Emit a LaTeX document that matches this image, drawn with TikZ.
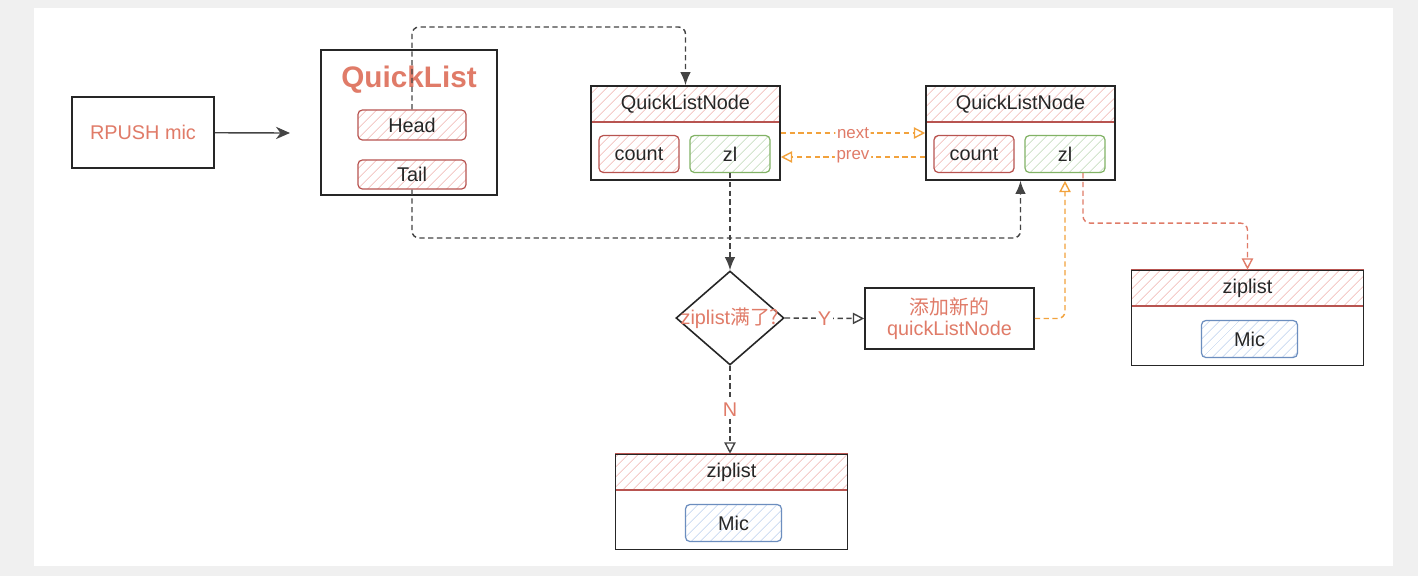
\documentclass[tikz,border=0pt]{standalone}
\usepackage{fontspec}
\setmainfont{Liberation Sans}
\newfontfamily\cjk{Noto Sans CJK SC}
\usetikzlibrary{calc}
\usetikzlibrary{arrows.meta}
\usetikzlibrary{positioning}
\usetikzlibrary{shapes.geometric}
\usetikzlibrary{patterns.meta}
\definecolor{PageGray}{HTML}{F0F0F0}
\definecolor{Coral}{HTML}{E07B68}
\definecolor{CellRed}{HTML}{B85450}
\definecolor{HatchRed}{HTML}{F0B5B0}
\definecolor{CellGreen}{HTML}{82B366}
\definecolor{HatchGreen}{HTML}{BFD9B7}
\definecolor{CellBlue}{HTML}{6C8EBF}
\definecolor{HatchBlue}{HTML}{BDD1EE}
\definecolor{LinkOrange}{HTML}{F2A23C}
\definecolor{LinkGray}{HTML}{444444}
\newcommand{\pxu}{0.02cm}

\begin{document}
\begin{tikzpicture}[x=0.02cm, y=-0.02cm,
  every node/.style={font=\fontsize{11.3}{12}\selectfont, inner sep=0pt, text=black!85},
  box/.style={draw=black!85, line width=0.9pt},
  hatch/.style={pattern={Lines[angle=45,distance=4pt,line width=0.4pt]}},
  redhead/.style={hatch, pattern color=HatchRed, draw=CellRed, line width=0.7pt},
  redcell/.style={redhead, rounded corners=2.5pt},
  greencell/.style={hatch, pattern color=HatchGreen, draw=CellGreen, line width=0.7pt, rounded corners=2.5pt},
  bluecell/.style={hatch, pattern color=HatchBlue, draw=CellBlue, line width=0.7pt, rounded corners=2.5pt},
  decision/.style={diamond, draw=black!85, line width=0.9pt, minimum width=108*\pxu, minimum height=94*\pxu},
  link/.style={draw=LinkGray, line width=0.8pt, dash pattern=on 3pt off 2pt, rounded corners=4pt},
  orangelink/.style={link, draw=LinkOrange},
  redlink/.style={link, draw=Coral},
  fulltip/.style={-{Latex[length=7.5pt,width=6pt]}},
  opentip/.style={-{Triangle[open,length=6.5pt,width=6.5pt]}},
  linklabel/.style={fill=white, inner sep=1pt, text=Coral}]

  \useasboundingbox (0,0) rectangle (1418,576);
  \fill[PageGray] (0,0) rectangle (1418,576);
  \fill[white] (34,8) rectangle (1393,566);

  \coordinate (pushend) at (290,133);
  \coordinate (headtop) at (0,27);
  \coordinate (tailbot) at (0,238);

  % command and quicklist
  \node[box, text=Coral, minimum width=142*\pxu, minimum height=71*\pxu] (rpush) at (143,132.5) {RPUSH mic};
  \node[box, minimum width=176*\pxu, minimum height=145*\pxu] (quicklist) at (409,122.5) {};
  \node[text=Coral, font=\fontsize{16.9}{18}\selectfont\bfseries] (qltitle) at (409,80) {QuickList};
  \node[redcell, minimum width=108*\pxu, minimum height=30*\pxu] (head) at (412,125) {Head};
  \node[redcell, minimum width=108*\pxu, minimum height=29*\pxu] (tail) at (412,174.5) {Tail};

  % quicklist nodes
  \foreach \cx/\n in {685.5/1,1020.5/2}{%
    \node[redhead, minimum width=189*\pxu, minimum height=36*\pxu] (qnhead\n) at (\cx,104) {QuickListNode};
    \node[box, minimum width=189*\pxu, minimum height=94*\pxu] (qn\n) at (\cx,133) {};
    \node[redcell, minimum width=80*\pxu, minimum height=37*\pxu] (count\n) at (\cx-46.5,154) {count};
    \node[greencell, minimum width=80*\pxu, minimum height=37*\pxu] (zl\n) at (\cx+44.5,154) {zl};
  }

  % ziplists
  \foreach \cx/\cy/\n in {1247.5/318/R,731.5/502/B}{%
    \node[redhead, minimum width=232*\pxu, minimum height=36*\pxu] (ziphead\n) at (\cx,\cy-30) {ziplist};
    \node[box, minimum width=232*\pxu, minimum height=95*\pxu] (ziplist\n) at (\cx,\cy) {};
    \node[bluecell, minimum width=96*\pxu, minimum height=37*\pxu] (mic\n) at (\cx+2,\cy+21) {Mic};
  }

  \node[decision] (cond) at (730,318) {};
  \node[text=Coral] (condtext) at (cond.center) {ziplist{\cjk 满了?}};
  \node[box, text=Coral, align=center, minimum width=169*\pxu, minimum height=61*\pxu] (addnode) at (949.5,318.5) {{\cjk 添加新的}\\quickListNode};

  % connectors
  \draw[draw=LinkGray, line width=0.8pt, -{Stealth[length=8pt,width=7pt]}] (rpush) -- (pushend);
  \draw[link, fulltip] (head.north) -- (head.north |- headtop) -| (qn1.north);
  \draw[link, fulltip] (tail.south) -- (tail.south |- tailbot) -| (qn2.south);
  \draw[orangelink, opentip] (qn1.east) -- node[linklabel, font=\fontsize{9.6}{10}\selectfont] {next} (qn2.west);
  \draw[orangelink, opentip] ([yshift=-24*\pxu]qn2.west) -- node[linklabel, font=\fontsize{9.6}{10}\selectfont] {prev} ([yshift=-24*\pxu]qn1.east);
  \draw[link, fulltip] (zl1.south) -- (cond.north);
  \draw[link, opentip] (cond.east) -- node[linklabel] {Y} (addnode.west);
  \draw[link, opentip] (cond.south) -- node[linklabel] {N} (cond.south |- ziplistB.north);
  \draw[orangelink, opentip] (addnode.east) -| (zl2.south |- qn2.south);
  \draw[redlink, opentip] ([xshift=18*\pxu]zl2.south) -- ++(0,50) -| (ziplistR.north);
\end{tikzpicture}
\end{document}
